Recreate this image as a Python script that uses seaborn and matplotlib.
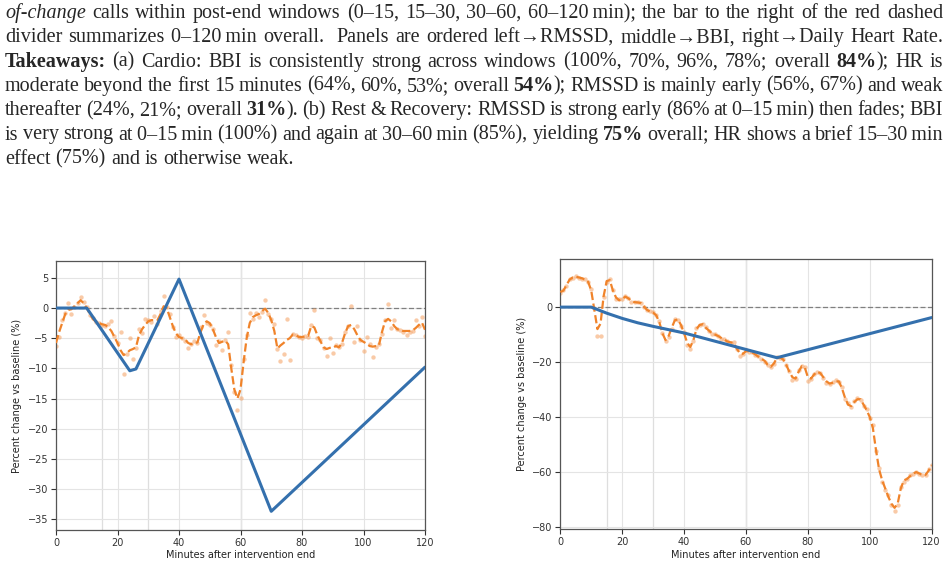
import re

import matplotlib

matplotlib.use("Agg")
import matplotlib.pyplot as plt
import seaborn as sns


W, H = 949, 566

minutes = list(range(121))

# left panel: per-minute % change, its smoothed trace, and the fitted piecewise model
left_raw = [
    -6.3, -4.8, -2.0, -0.8, 0.9, -1.0, 0.2, 0.9, 1.8, 1.0,
    0.2, -1.2, -1.7, -2.3, -2.5, -2.8, -3.0, -2.6, -2.2, -4.6,
    -5.8, -3.9, -11.0, -7.6, -5.0, -8.4, -6.6, -3.5, -4.2, -1.8,
    -2.0, -2.3, -1.3, -2.6, -0.5, 2.0, 0.2, -1.0, -3.2, -4.8,
    -4.4, -4.9, -5.4, -6.6, -6.0, -5.5, -5.8, -3.2, -1.1, -2.5,
    -2.8, -3.4, -6.1, -5.5, -7.0, -5.3, -3.9, -9.5, -13.9, -16.9,
    -14.9, -8.5, -4.5, -0.9, -1.8, -0.8, -1.5, -0.6, 1.3, -1.0,
    -1.8, -2.6, -6.8, -8.7, -7.6, -1.8, -8.6, -4.3, -4.4, -4.8,
    -4.9, -4.6, -4.8, -2.8, -0.3, -5.0, -5.3, -6.7, -7.9, -5.0,
    -7.5, -6.2, -6.4, -6.0, -4.0, -2.9, 0.3, -5.6, -3.0, -5.3,
    -7.2, -4.8, -5.9, -8.1, -6.4, -6.0, -4.3, -2.0, 0.6, -3.3,
    -2.0, -3.5, -3.6, -4.0, -4.4, -3.9, -3.8, -1.95, -3.0, -1.5,
    -4.7,
]
left_smooth = [
    -5.8, -4.0, -2.5, -1.0, -0.3, -0.2, 0.3, 0.8, 1.3, 0.8,
    0.0, -1.0, -1.8, -2.3, -2.5, -2.7, -2.8, -3.2, -3.8, -4.8,
    -5.8, -7.0, -7.8, -7.5, -7.0, -6.8, -6.5, -4.5, -3.5, -2.8,
    -2.2, -2.0, -2.0, -2.0, -1.0, 0.3, 0.0, -1.5, -3.0, -4.2,
    -4.8, -5.0, -5.2, -5.8, -6.0, -5.8, -5.7, -4.0, -2.7, -2.2,
    -2.5, -3.5, -4.8, -5.8, -5.6, -5.4, -6.0, -10.0, -13.5, -15.0,
    -13.5, -9.0, -5.0, -2.5, -1.5, -1.2, -1.0, -0.5, -0.1, -0.8,
    -2.0, -3.8, -6.7, -6.2, -5.8, -5.3, -5.0, -4.4, -4.5, -4.8,
    -4.8, -4.7, -4.6, -3.0, -3.2, -4.5, -5.5, -6.5, -6.8, -6.6,
    -6.6, -6.3, -6.5, -5.8, -4.2, -3.0, -2.8, -3.5, -4.5, -5.3,
    -5.6, -5.9, -6.3, -6.4, -6.3, -6.2, -4.0, -2.2, -1.8, -2.2,
    -3.0, -3.5, -3.7, -3.8, -3.8, -3.8, -3.7, -3.3, -2.8, -2.4,
    -3.6,
]
left_model_x = [0, 10, 24, 26, 40, 70, 120]
left_model_y = [0.0, 0.0, -10.4, -10.1, 4.8, -33.7, -9.8]

# right panel
right_raw = [
    5.0, 6.3, 7.5, 10.2, 10.6, 11.2, 10.7, 10.4, 10.1, 9.0,
    6.5, -0.5, -10.5, -10.6, 3.5, 9.3, 10.2, 6.2, 3.0, 2.8,
    2.9, 4.0, 3.4, 2.0, 1.7, 2.0, 1.6, 0.0, -1.2, -1.5,
    -1.7, -2.8, -5.0, -9.5, -12.2, -10.8, -7.8, -4.3, -4.6, -6.8,
    -9.2, -13.8, -15.4, -12.5, -7.5, -6.6, -6.0, -7.2, -8.8, -9.6,
    -9.8, -10.4, -11.5, -11.6, -12.4, -12.9, -12.6, -15.2, -17.8, -17.2,
    -15.6, -16.2, -16.4, -17.5, -17.9, -19.0, -19.8, -21.2, -21.9, -20.8,
    -18.0, -18.6, -18.7, -21.2, -23.2, -26.5, -26.0, -23.0, -21.5, -21.6,
    -27.0, -26.2, -24.2, -23.6, -23.9, -25.8, -27.5, -28.0, -27.2, -26.5,
    -27.3, -29.0, -33.5, -35.0, -36.5, -34.2, -33.2, -33.6, -35.8, -37.2,
    -40.5, -43.0, -52.5, -58.5, -63.5, -66.5, -68.5, -72.0, -74.0, -72.0,
    -65.5, -63.5, -62.5, -61.0, -60.8, -59.9, -60.6, -61.1, -61.2, -59.0,
    -57.4,
]
right_smooth = [
    5.5, 6.0, 8.0, 10.0, 10.8, 11.0, 10.8, 10.5, 10.0, 9.2,
    6.0, -1.0, -8.0, -6.0, 4.0, 9.5, 9.8, 6.0, 3.5, 2.5,
    3.0, 3.8, 3.2, 2.2, 1.8, 1.7, 1.5, 0.3, -1.0, -1.6,
    -2.0, -3.0, -5.5, -9.5, -12.0, -10.5, -7.5, -4.8, -4.5, -6.5,
    -9.5, -13.0, -14.5, -12.0, -8.0, -6.5, -6.2, -7.5, -8.5, -9.5,
    -10.0, -10.5, -11.2, -11.8, -12.5, -12.8, -13.0, -15.0, -16.8, -17.0,
    -16.0, -16.0, -16.5, -17.2, -18.0, -18.8, -19.5, -21.0, -21.7, -20.5,
    -18.5, -18.3, -19.0, -21.0, -23.5, -25.5, -26.0, -23.5, -21.5, -22.0,
    -25.5, -26.0, -24.5, -23.5, -24.0, -25.5, -27.0, -27.8, -27.5, -27.0,
    -27.0, -29.5, -33.0, -35.5, -36.0, -34.5, -33.5, -33.5, -35.5, -37.5,
    -40.0, -44.0, -52.0, -59.0, -63.0, -66.0, -69.0, -71.5, -73.0, -71.5,
    -66.0, -63.0, -62.5, -61.5, -60.5, -60.0, -60.5, -61.0, -61.0, -59.5,
    -57.5,
]
right_model_x = [0, 10, 15, 20, 25, 30, 40, 70, 120]
right_model_y = [0.0, 0.0, -2.2, -4.1, -5.7, -7.0, -9.4, -18.4, -3.8]

window_edges = [15, 30, 60]
x_ticks = [0, 20, 40, 60, 80, 100, 120]
left_y_ticks = [5, 0, -5, -10, -15, -20, -25, -30, -35]
right_y_ticks = [0, -20, -40, -60, -80]

caption_lines = [
    "*of-change* calls within post-end windows (0–15, 15–30, 30–60, 60–120~min); the bar to the right of the red dashed",
    "divider summarizes 0–120~min overall.  Panels are ordered left→RMSSD, middle→BBI, right→Daily Heart Rate.",
    "**Takeaways:** (a) Cardio: BBI is consistently strong across windows (100%, 70%, 96%, 78%; overall **84%**); HR is",
    "moderate beyond the first 15 minutes (64%, 60%, 53%; overall **54%**); RMSSD is mainly early (56%, 67%) and weak",
    "thereafter (24%, 21%; overall **31%**). (b) Rest & Recovery: RMSSD is strong early (86% at 0–15~min) then fades; BBI",
    "is very strong at 0–15~min (100%) and again at 30–60~min (85%), yielding **75%** overall; HR shows a brief 15–30~min",
    "effect (75%) and is otherwise weak.",
]

BLUE = "#3470ad"
ORANGE = "#f0832a"
CAPTION_SIZE = 14.5
CAPTION_LEFT, CAPTION_RIGHT = 5, 943
CAPTION_BASELINE, CAPTION_STEP = 18, 24.3


def draw_caption(fig):
    renderer = fig.canvas.get_renderer()
    for i, line in enumerate(caption_lines):
        y = 1 - (CAPTION_BASELINE + i * CAPTION_STEP) / H
        words = []
        for word in line.split(" "):
            segs = []
            for part in re.split(r"(\*\*[^*]+\*\*|\*[^*]+\*)", word):
                if not part:
                    continue
                weight, style = "normal", "normal"
                if part.startswith("**"):
                    part, weight = part[2:-2], "bold"
                elif part.startswith("*"):
                    part, style = part[1:-1], "italic"
                t = fig.text(0, y, part.replace("~", "\u2009"), fontsize=CAPTION_SIZE,
                             family=["Liberation Serif", "DejaVu Serif"],
                             weight=weight, style=style, va="baseline", ha="left")
                segs.append((t, t.get_window_extent(renderer).width))
            words.append(segs)
        total = sum(w for segs in words for _, w in segs)
        last = i == len(caption_lines) - 1
        gap = 0.25 * CAPTION_SIZE * 100 / 72 if last else (
            (CAPTION_RIGHT - CAPTION_LEFT - total) / (len(words) - 1))
        x = CAPTION_LEFT
        for segs in words:
            for t, w in segs:
                t.set_x(x / W)
                x += w
            x += gap


def draw_panel(ax, raw, smooth, model_x, model_y, y_ticks, ylim):
    ax.set_axisbelow(True)
    ax.grid(True, color="#e4e4e4", linewidth=0.8)
    for edge in window_edges:
        ax.axvline(edge, color="#c4c4c4" if edge == 60 else "#dedede",
                   linewidth=0.9, zorder=0.5)
    ax.axhline(0, color="#808080", linewidth=0.9, linestyle=(0, (4, 2)), zorder=1)
    sns.scatterplot(x=minutes, y=raw, ax=ax, color="#f5a060", s=10, alpha=0.55,
                    linewidth=0, zorder=2)
    sns.lineplot(x=minutes, y=smooth, ax=ax, color=ORANGE, linewidth=1.6,
                 linestyle="--", zorder=3)
    sns.lineplot(x=model_x, y=model_y, ax=ax, color=BLUE, linewidth=2.2, zorder=4)
    ax.set_xlim(0, 120)
    ax.set_ylim(*ylim)
    ax.set_xticks(x_ticks)
    ax.set_yticks(y_ticks)
    ax.tick_params(labelsize=7, length=3.5, width=0.8, colors="#333333", pad=2)
    for spine in ax.spines.values():
        spine.set_visible(True)
        spine.set_color("#555555")
        spine.set_linewidth(0.9)
    ax.set_xlabel("Minutes after intervention end", fontsize=7, labelpad=2, color="#222222")
    ax.set_ylabel("Percent change vs baseline (%)", fontsize=7, labelpad=4, color="#222222")


sns.set_theme(style="ticks")
plt.rcParams["font.family"] = ["DejaVu Sans"]

fig = plt.figure(figsize=(W / 100, H / 100), dpi=100)
ax_left = fig.add_axes([56 / W, 1 - 530 / H, (425 - 56) / W, (530 - 261) / H])
ax_right = fig.add_axes([560.3 / W, 1 - 529.3 / H, (931.7 - 560.3) / W, (529.3 - 259) / H])

draw_panel(ax_left, left_raw, left_smooth, left_model_x, left_model_y,
           left_y_ticks, (-36.8, 7.8))
draw_panel(ax_right, right_raw, right_smooth, right_model_x, right_model_y,
           right_y_ticks, (-80.8, 17.5))

draw_caption(fig)

fig.savefig("out.png", dpi=100)
